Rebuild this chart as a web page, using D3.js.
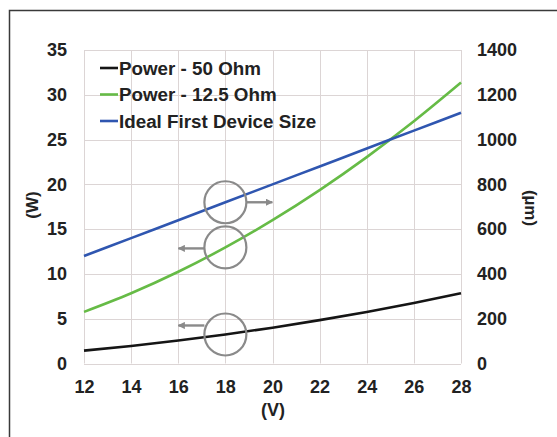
<!DOCTYPE html>
<html>
<head>
<meta charset="utf-8">
<script src="https://cdn.jsdelivr.net/npm/d3@7"></script>
<style>
  body { margin: 0; background: #fff; }
  #chart text { font-family: "Liberation Sans", Arial, sans-serif; font-weight: bold; fill: #222; }
</style>
</head>
<body>
<div id="chart"></div>
<script>
// ||================================||
// || DATA                           ||
// ||================================||

var volts = [12, 14, 16, 18, 20, 22, 24, 26, 28];
var power50 = [1.44, 1.96, 2.56, 3.24, 4.0, 4.84, 5.76, 6.76, 7.84];
var power125 = [5.76, 7.84, 10.24, 12.96, 16.0, 19.36, 23.04, 27.04, 31.36];
var deviceSize = [480, 560, 640, 720, 800, 880, 960, 1040, 1120];

var xTicks = [12, 14, 16, 18, 20, 22, 24, 26, 28];
var leftTicks = [0, 5, 10, 15, 20, 25, 30, 35];
var rightTicks = [0, 200, 400, 600, 800, 1000, 1200, 1400];

var seriesNames = ["Power - 50 Ohm", "Power - 12.5 Ohm", "Ideal First Device Size"];
var seriesColors = ["#151515", "#66bb46", "#2f56b0"];

// ||================================||
// || SETUP                          ||
// ||================================||

var width = 557,
    height = 437;

var svg = d3.select("#chart")
  .append("svg")
    .attr("width", width)
    .attr("height", height);

// outer frame
svg.append("rect")
    .attr("x", 9.5)
    .attr("y", 10.5)
    .attr("width", 560)
    .attr("height", 450)
    .attr("fill", "none")
    .attr("stroke", "#3a3a3a")
    .attr("stroke-width", 1.5);

var x = d3.scaleLinear().domain([12, 28]).range([84, 461]);
var yL = d3.scaleLinear().domain([0, 35]).range([363.5, 50]);
var yR = d3.scaleLinear().domain([0, 1400]).range([363.5, 50]);

// grid
var grid = svg.append("g").attr("stroke", "#dcd5d5").attr("stroke-width", 1);
grid.selectAll("line.v")
  .data(xTicks)
  .enter().append("line")
    .attr("x1", function(d) { return Math.round(x(d)) + 0.5; })
    .attr("x2", function(d) { return Math.round(x(d)) + 0.5; })
    .attr("y1", yL(35))
    .attr("y2", yL(0));
grid.selectAll("line.h")
  .data(leftTicks)
  .enter().append("line")
    .attr("x1", x(12))
    .attr("x2", x(28))
    .attr("y1", function(d) { return Math.round(yL(d)) + 0.5; })
    .attr("y2", function(d) { return Math.round(yL(d)) + 0.5; });

// axes (labels only)
var leftAxis = svg.append("g")
    .attr("transform", "translate(84,0)")
    .call(d3.axisLeft(yL).tickValues(leftTicks).tickSize(0).tickPadding(17));
var rightAxis = svg.append("g")
    .attr("transform", "translate(461,0)")
    .call(d3.axisRight(yR).tickValues(rightTicks).tickFormat(d3.format("d")).tickSize(0).tickPadding(16));
var bottomAxis = svg.append("g")
    .attr("transform", "translate(0,363.5)")
    .call(d3.axisBottom(x).tickValues(xTicks).tickSize(0).tickPadding(17));

[leftAxis, rightAxis, bottomAxis].forEach(function(a) {
  a.select(".domain").remove();
  a.selectAll("text").style("font-size", "18px").attr("fill", "#222");
});

// axis titles
svg.append("text")
    .attr("transform", "translate(32,205) rotate(-90)")
    .attr("text-anchor", "middle")
    .attr("dy", "0.35em")
    .style("font-size", "17px")
    .text("(W)");
svg.append("text")
    .attr("transform", "translate(531,208) rotate(90)")
    .attr("text-anchor", "middle")
    .attr("dy", "0.35em")
    .style("font-size", "17px")
    .text("(µm)");
svg.append("text")
    .attr("x", 273)
    .attr("y", 416)
    .attr("text-anchor", "middle")
    .style("font-size", "18px")
    .text("(V)");

// ||================================||
// || LINES                          ||
// ||================================||

var leftLine = d3.line()
    .x(function(d, i) { return x(volts[i]); })
    .y(function(d) { return yL(d); })
    .curve(d3.curveMonotoneX);
var rightLine = d3.line()
    .x(function(d, i) { return x(volts[i]); })
    .y(function(d) { return yR(d); })
    .curve(d3.curveMonotoneX);

svg.append("path")
    .attr("d", leftLine(power50))
    .attr("fill", "none")
    .attr("stroke", seriesColors[0])
    .attr("stroke-width", 2.6);
svg.append("path")
    .attr("d", leftLine(power125))
    .attr("fill", "none")
    .attr("stroke", seriesColors[1])
    .attr("stroke-width", 2.6);
svg.append("path")
    .attr("d", rightLine(deviceSize))
    .attr("fill", "none")
    .attr("stroke", seriesColors[2])
    .attr("stroke-width", 2.6);

// ||================================||
// || ANNOTATIONS                    ||
// ||================================||

var grey = "#8a8a8a";
svg.append("defs").append("marker")
    .attr("id", "arrow")
    .attr("viewBox", "0 0 10 10")
    .attr("refX", 9)
    .attr("refY", 5)
    .attr("markerWidth", 3)
    .attr("markerHeight", 3)
    .attr("orient", "auto")
  .append("path")
    .attr("d", "M0,0L10,5L0,10z")
    .attr("fill", grey);

var idx = volts.indexOf(18);
var marks = [
  { cy: yR(deviceSize[idx]), dir: 1, off: 0 },
  { cy: yL(power125[idx]), dir: -1, off: 1 },
  { cy: yL(power50[idx]), dir: -1, off: -9 }
];
var r = 21;
marks.forEach(function(m) {
  var cx = x(18);
  svg.append("circle")
      .attr("cx", cx)
      .attr("cy", m.cy)
      .attr("r", r)
      .attr("fill", "none")
      .attr("stroke", grey)
      .attr("stroke-width", 2.2);
  svg.append("line")
      .attr("x1", cx + m.dir * r)
      .attr("x2", cx + m.dir * 47)
      .attr("y1", m.cy + m.off)
      .attr("y2", m.cy + m.off)
      .attr("stroke", grey)
      .attr("stroke-width", 2.4)
      .attr("marker-end", "url(#arrow)");
});

// ||================================||
// || LEGEND                         ||
// ||================================||

var legend = svg.append("g").attr("transform", "translate(100,68)");
var rows = legend.selectAll("g")
  .data(seriesNames)
  .enter().append("g")
    .attr("transform", function(d, i) { return "translate(0," + (i * 26.5) + ")"; });
rows.append("line")
    .attr("x1", 0)
    .attr("x2", 18)
    .attr("stroke", function(d, i) { return seriesColors[i]; })
    .attr("stroke-width", 2.6);
rows.append("text")
    .attr("x", 19)
    .attr("dy", "0.36em")
    .style("font-size", "18.8px")
    .text(function(d) { return d; });
</script>
</body>
</html>
